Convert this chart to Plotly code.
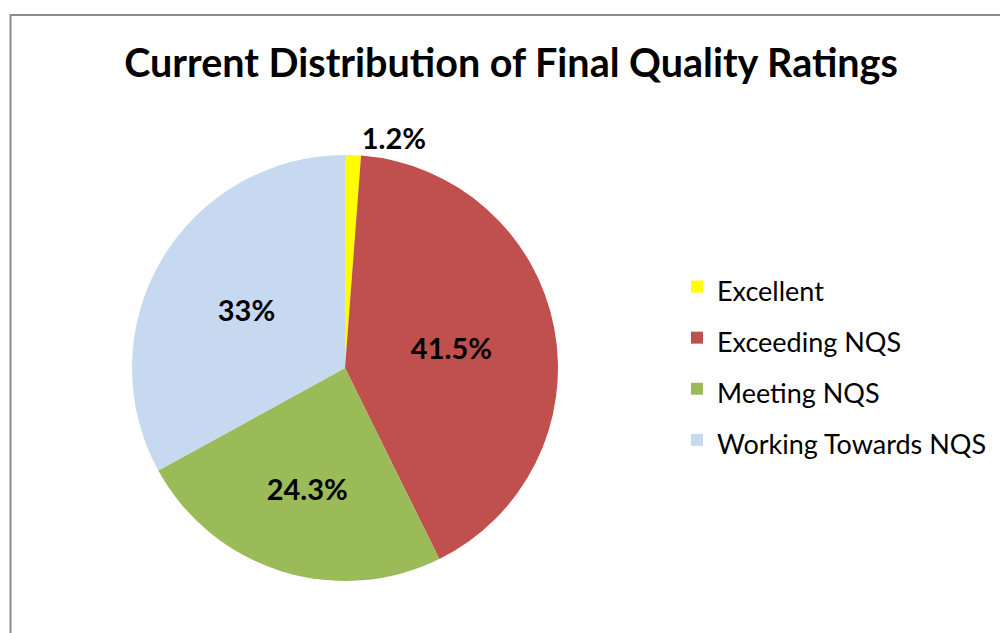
import plotly.graph_objects as go

categories = ["Excellent", "Exceeding NQS", "Meeting NQS", "Working Towards NQS"]
values = [1.2, 41.5, 24.3, 33.0]
value_labels = ["1.2%", "41.5%", "24.3%", "33%"]
colors = ["#FFFF00", "#C0504D", "#9BBB59", "#C6D9F1"]

W, H = 1000, 633
FONT = "Lato, Carlito, Calibri, sans-serif"
LEGEND_TEXT_SIZE = 27

# legend entries: real text, rendered at a smaller size than the legend's line box
legend_labels = [f"<span style='font-size:{LEGEND_TEXT_SIZE}px'>{c}</span>" for c in categories]

fig = go.Figure()
fig.add_trace(go.Pie(
    labels=legend_labels,
    values=values,
    text=value_labels,
    textinfo="text",
    sort=False,
    direction="clockwise",
    rotation=0,
    marker=dict(colors=colors, line=dict(width=0)),
    textposition=["outside", "inside", "inside", "inside"],
    insidetextorientation="horizontal",
    textfont=dict(family=FONT, size=29, color="black", weight="bold"),
    domain=dict(x=[132 / W, 558 / W], y=[1 - 581 / H, 1 - 155 / H]),
    showlegend=True,
    hovertemplate="%{label}: %{percent}<extra></extra>",
))

fig.update_layout(
    width=W, height=H,
    margin=dict(l=0, r=0, t=0, b=0),
    paper_bgcolor="white",
    plot_bgcolor="white",
    title=dict(
        text="<b>Current Distribution of Final Quality Ratings</b>",
        x=0.511, y=1 - 63 / H, xanchor="center", yanchor="middle",
        font=dict(family=FONT, size=39.5, color="black"),
    ),
    legend=dict(
        x=0.677, y=1 - 256 / H, xanchor="left", yanchor="top",
        font=dict(family=FONT, size=37, color="black"),
        itemwidth=30,
        bgcolor="rgba(0,0,0,0)",
    ),
    shapes=[dict(
        type="rect", xref="paper", yref="paper",
        x0=10.5 / W, x1=1.02, y0=-0.02, y1=1 - 15 / H,
        line=dict(color="#8C8C8C", width=2),
        fillcolor="rgba(0,0,0,0)",
        layer="below",
    )],
)

fig.write_html(
    "out.html",
    config={"displayModeBar": False},
    post_script="document.body.style.margin='0';document.body.style.overflow='hidden';",
)
